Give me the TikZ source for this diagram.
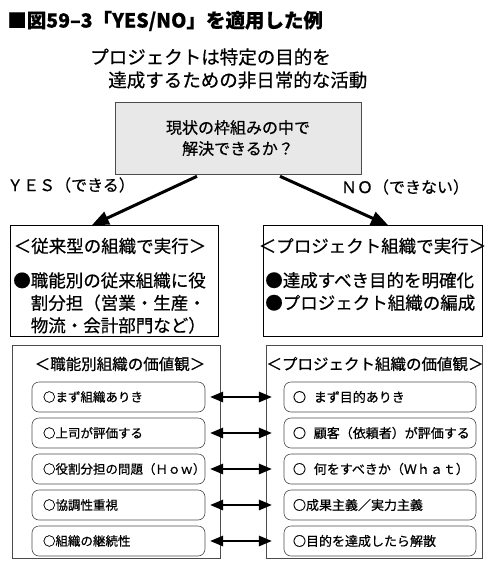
\documentclass[tikz,border=0pt]{standalone}
\usepackage{fontspec}
\setmainfont{Noto Sans CJK JP}[FakeBold=0.6]
\usepackage{tikz}
\usetikzlibrary{positioning, arrows}

\definecolor{askfill}{gray}{0.91}
\definecolor{lineg}{gray}{0.3}

\begin{document}
\begin{tikzpicture}[x=1pt, y=-1pt, >=triangle 45, semithick,
    every node/.style={inner sep=0pt},
    askbox/.style={draw=lineg, fill=askfill, minimum width=246pt, minimum height=72pt, align=center, font=\fontsize{16}{21}\selectfont},
    branch/.style={font=\fontsize{16}{20}\selectfont},
    planbox/.style={draw, minimum height=111pt},
    planhead/.style={font=\fontsize{17.5}{22}\selectfont},
    planbody/.style={anchor=west, align=left, font=\fontsize{17.5}{22.5}\selectfont},
    valuebox/.style={draw=lineg, minimum height=213pt},
    valuehead/.style={font=\fontsize{15.5}{20}\selectfont},
    olditem/.style={draw=lineg, rounded corners=7pt, minimum height=30pt, inner xsep=11pt, text width=151pt, align=left, font=\fontsize{12.5}{15}\selectfont},
    newitem/.style={draw=lineg, rounded corners=7pt, minimum height=30pt, inner xsep=9pt, text width=174pt, align=left, font=\fontsize{13}{15}\selectfont},
    link/.style={<->, line width=2pt, shorten <=5pt, shorten >=12pt}]
    \useasboundingbox (0,0) rectangle (485,576);

    % title and theme
    \node[anchor=west, font=\bfseries\fontsize{19.5}{21}\selectfont] (title) at (7,21) {■図59–3「YES/NO」を適用した例};
    \node[anchor=west, font=\fontsize{18.5}{22}\selectfont] (aim1) at (90,57) {プロジェクトは特定の目的を};
    \node[anchor=west, font=\fontsize{18.5}{22}\selectfont] (aim2) at (108,80) {達成するための非日常的な活動};

    % question
    \node[askbox] (ask) at (238,138) {現状の枠組みの中で\\解決できるか？};
    \node[branch] (yes) at (71,185) {ＹＥＳ（できる）};
    \node[branch] (no) at (405,187) {ＮＯ（できない）};

    % two ways to carry it out
    \node[planbox, minimum width=208pt] (oldplan) at (114,281) {};
    \node[planbox, minimum width=219pt] (newplan) at (372.5,281) {};
    \node[planhead] (oldhead) at (110,246) {＜従来型の組織で実行＞};
    \node[planbody] (oldbody) at (13,303) {●職能別の従来組織に役\\\hspace*{1em}割分担（営業・生産・\\\hspace*{1em}物流・会計部門など）};
    \node[planhead] (newhead) at (372.5,246) {＜プロジェクト組織で実行＞};
    \node[planbody] (newbody) at (265,291.5) {●達成すべき目的を明確化\\●プロジェクト組織の編成};

    \draw[->, line width=3pt] ([xshift=-41pt, yshift=-2pt]ask.south) -- ([xshift=-22pt]oldplan.north);
    \draw[->, line width=3pt] ([xshift=42pt, yshift=-2pt]ask.south) -- ([xshift=15.5pt]newplan.north);

    % values
    \node[valuebox, minimum width=208pt] (oldvalue) at (116,451.5) {};
    \node[valuebox, minimum width=216pt] (newvalue) at (374,451.5) {};
    \node[valuehead] (oldvaluehead) at (120,364) {＜職能別組織の価値観＞};
    \node[valuehead] (newvaluehead) at (375,364) {＜プロジェクト組織の価値観＞};

    \node[olditem] (old1) at (118.5,397) {○まず組織ありき};
    \node[olditem] (old2) at (118.5,433) {○上司が評価する};
    \node[olditem] (old3) at (118.5,469) {○役割分担の問題（Ｈｏｗ）};
    \node[olditem] (old4) at (118.5,505) {○協調性重視};
    \node[olditem] (old5) at (118.5,541) {○組織の継続性};

    \node[newitem] (new1) at (380,397) {○\kern0.6em まず目的ありき};
    \node[newitem] (new2) at (380,433) {○\kern0.6em 顧客（依頼者）が評価する};
    \node[newitem] (new3) at (380,469) {○\kern0.6em 何をすべきか（Ｗｈａｔ）};
    \node[newitem] (new4) at (380,505) {○成果主義／実力主義};
    \node[newitem] (new5) at (380,541) {○目的を達成したら解散};

    \draw[link] (old1.east) -- (new1.west);
    \draw[link] (old2.east) -- (new2.west);
    \draw[link] (old3.east) -- (new3.west);
    \draw[link] (old4.east) -- (new4.west);
    \draw[link] (old5.east) -- (new5.west);
\end{tikzpicture}
\end{document}
